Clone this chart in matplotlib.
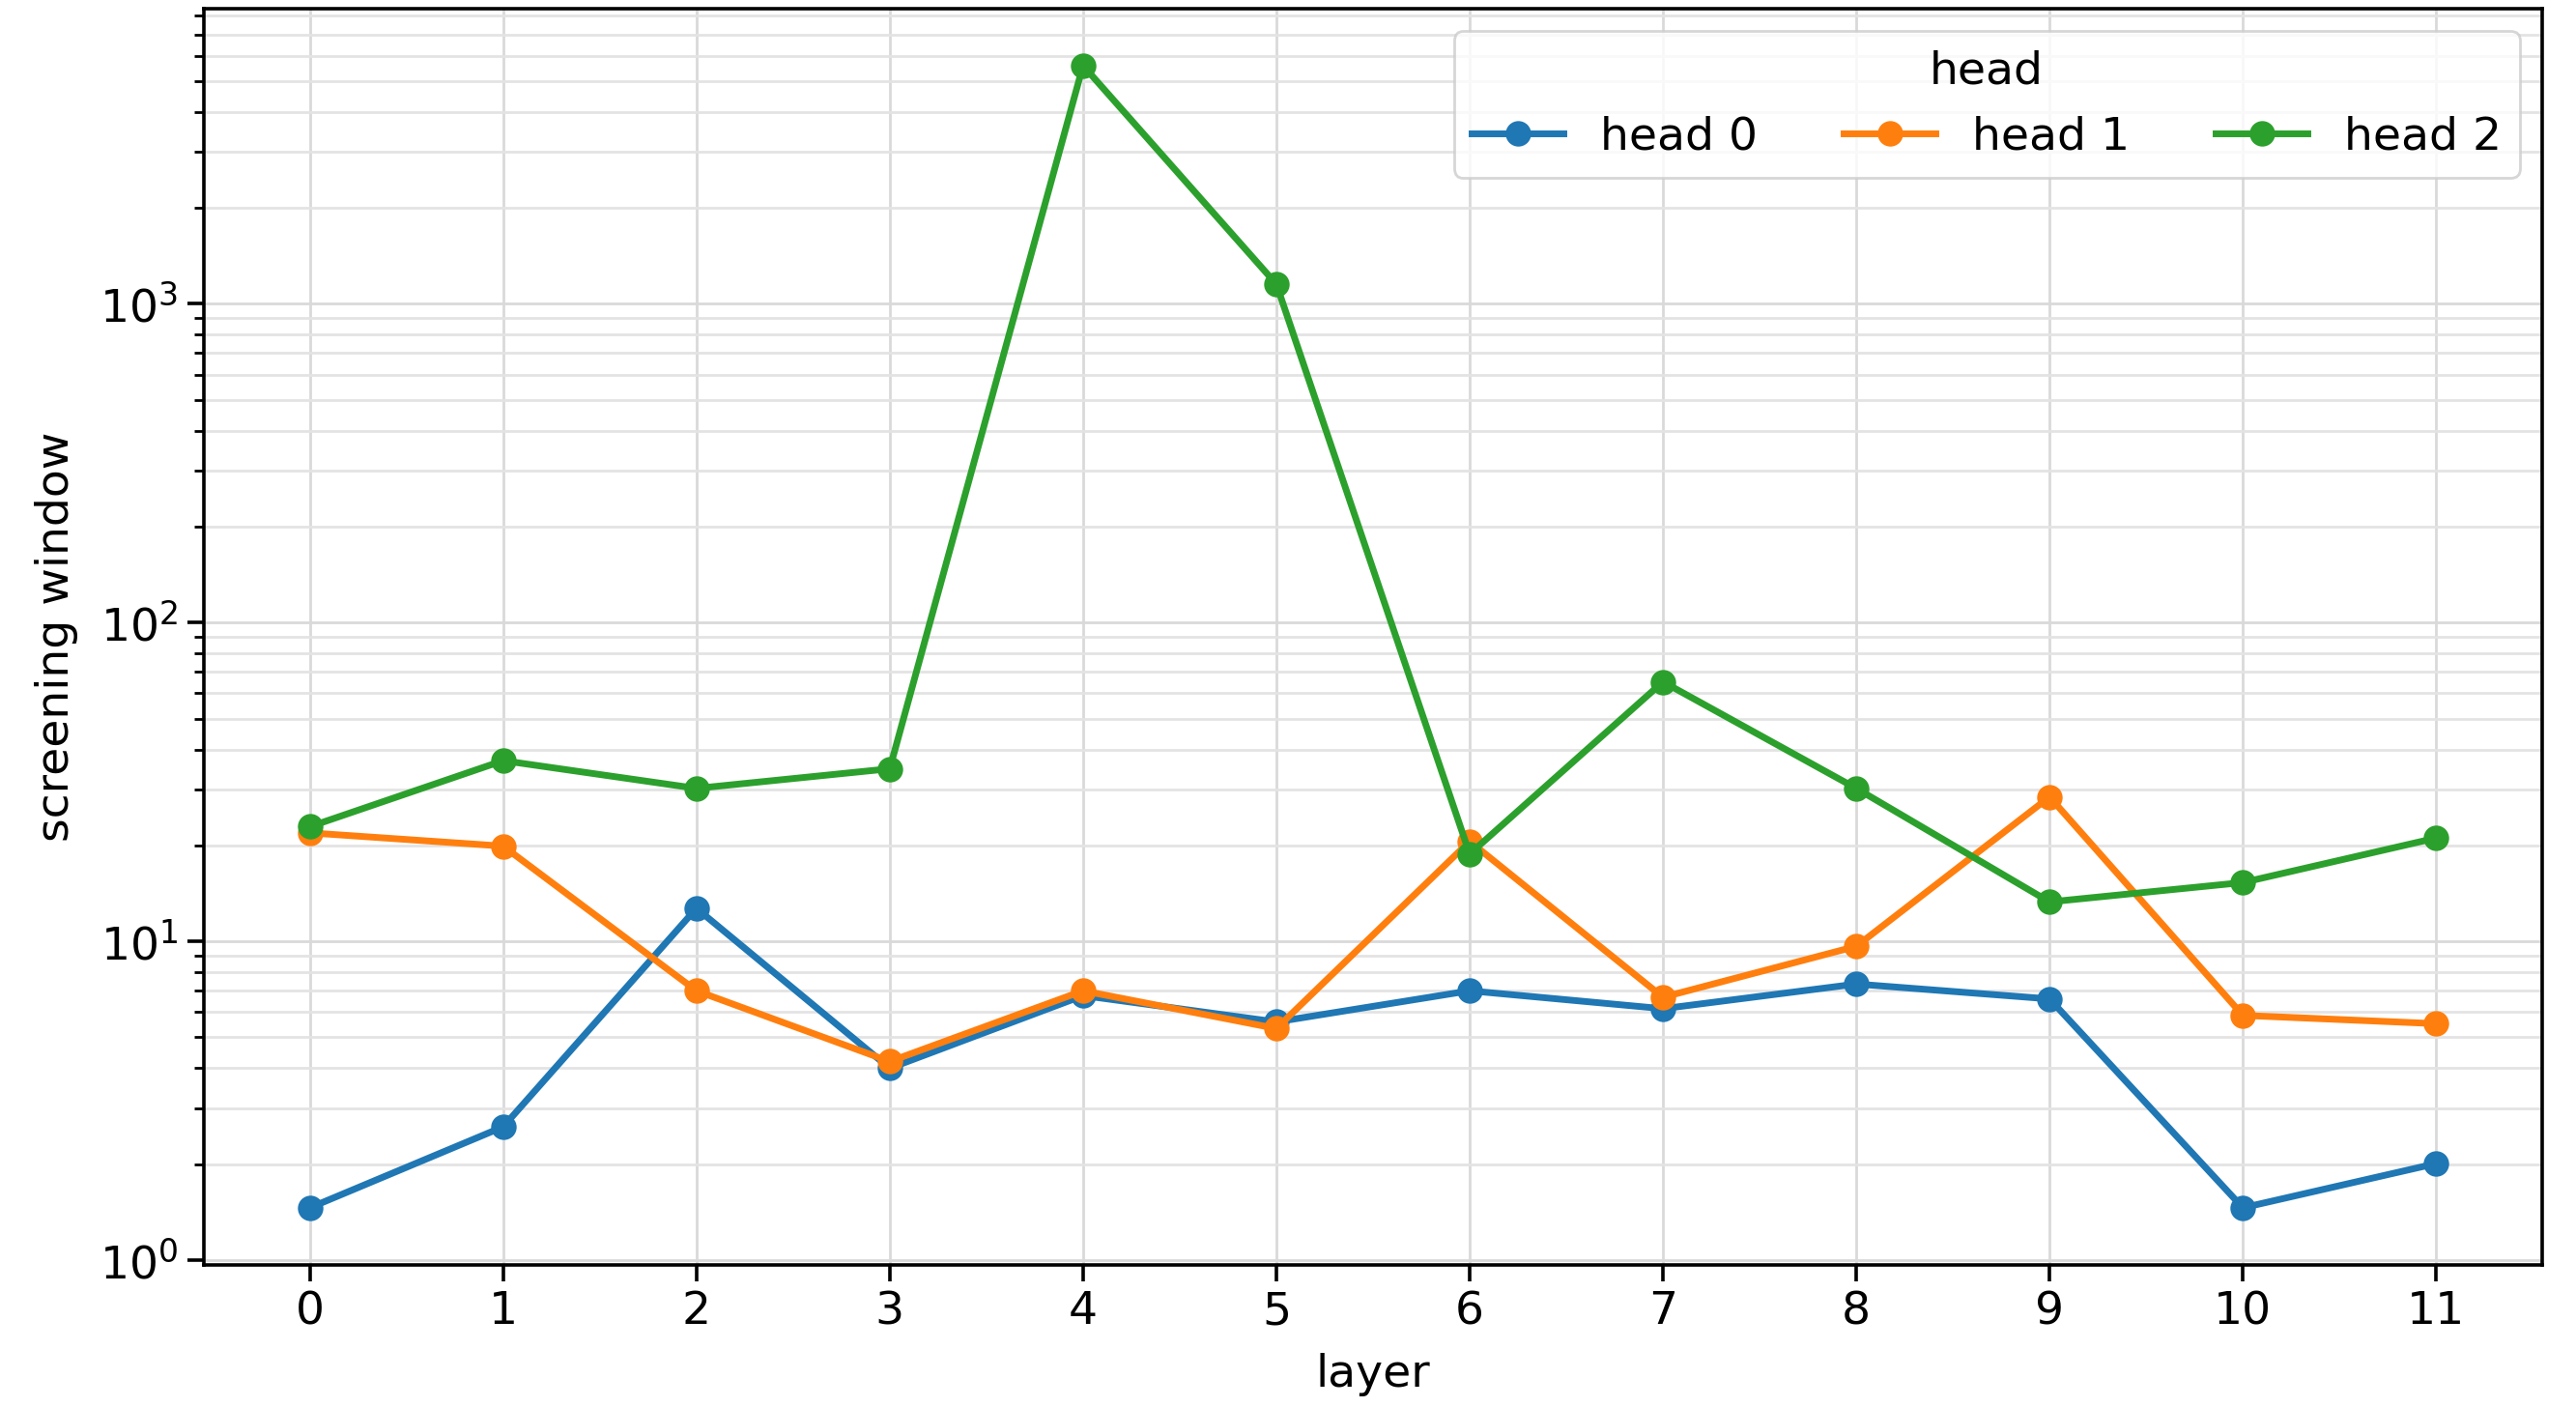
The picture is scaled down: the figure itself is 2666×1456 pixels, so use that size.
import matplotlib
matplotlib.use("Agg")
import matplotlib.pyplot as plt

# layer index on x
layers = list(range(12))

# screening window per head
head_0 = [1.46, 2.62, 12.7, 4.0, 6.76, 5.59, 7.0, 6.15, 7.35, 6.6, 1.46, 2.01]
head_1 = [21.9, 19.9, 7.0, 4.2, 7.0, 5.33, 20.6, 6.68, 9.65, 28.4, 5.86, 5.52]
head_2 = [22.9, 36.9, 30.2, 34.8, 5590, 1153, 18.8, 65.2, 30.2, 13.3, 15.3, 21.1]

series_names = ["head 0", "head 1", "head 2"]
series_colors = ["#1f77b4", "#ff7f0e", "#2ca02c"]

plt.rcParams["font.size"] = 17
plt.rcParams["axes.linewidth"] = 1.3
plt.rcParams["xtick.major.size"] = 6
plt.rcParams["ytick.major.size"] = 6
plt.rcParams["ytick.minor.size"] = 3.5
plt.rcParams["xtick.major.width"] = 1.3
plt.rcParams["ytick.major.width"] = 1.3
plt.rcParams["ytick.minor.width"] = 1.0

fig = plt.figure(figsize=(13.33, 7.28), dpi=200)
ax = fig.add_axes([0.079, 0.101, 0.908, 0.893])

for name, vals, col in zip(series_names, [head_0, head_1, head_2], series_colors):
    ax.plot(layers, vals, marker="o", color=col, linewidth=2.5, markersize=8.5, label=name)

ax.set_yscale("log")
ax.set_xticks(layers)
ax.grid(True, which="major", color="#d9d9d9", linewidth=1.0)
ax.grid(True, which="minor", axis="y", color="#e3e3e3", linewidth=1.0)
ax.set_axisbelow(True)

ax.set_xlabel("layer", labelpad=7)
ax.set_ylabel("screening window", labelpad=8)

ax.legend(title="head", ncol=3, loc="upper right", fontsize=17, title_fontsize=17,
          columnspacing=1.9, handlelength=2.0)

fig.savefig("out.png", dpi=200)
